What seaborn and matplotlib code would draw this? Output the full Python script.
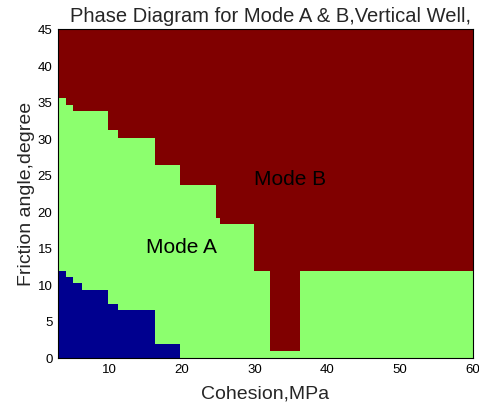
import numpy as np
import matplotlib
matplotlib.use("Agg")
import matplotlib.pyplot as plt
import seaborn as sns

# Step boundaries (cohesion, MPa)
cohesion_edges = [3.0, 4.05, 5.0, 6.35, 9.8, 11.25, 16.3, 19.75, 24.75, 25.3, 29.95, 32.1, 36.2, 60.0]
# Upper friction angle (degree) of the Mode A (green) region in each cohesion step
modeA_upper = [35.5, 34.6, 33.7, 33.7, 31.1, 30.05, 26.4, 23.65, 19.1, 18.3, 11.85, 0.9, 11.85]
# Upper friction angle of the lower (blue) region in each cohesion step
lower_upper = [11.85, 11.05, 10.15, 9.2, 7.35, 6.45, 1.85, 0, 0, 0, 0, 0, 0]
angle_max = 45

x_ticks = [10, 20, 30, 40, 50, 60]
y_ticks = [0, 5, 10, 15, 20, 25, 30, 35, 40, 45]

c_red = "#800000"
c_green = "#8CFF6E"
c_blue = "#00008F"

sns.set_style("white")
plt.rcParams["font.family"] = ["Liberation Sans", "DejaVu Sans"]

fig = plt.figure(figsize=(4.79, 4.06), dpi=100)
ax = fig.add_axes([58 / 479, 1 - 358.5 / 406, (473 - 58) / 479, (358.5 - 30) / 406])

edges = np.array(cohesion_edges)
ax.stairs([angle_max] * (len(edges) - 1), edges, baseline=0, fill=True, color=c_red, lw=0)
ax.stairs(modeA_upper, edges, baseline=0, fill=True, color=c_green, lw=0)
ax.stairs(lower_upper, edges, baseline=0, fill=True, color=c_blue, lw=0)

ax.set_xlim(3, 60)
ax.set_ylim(0, 45)
ax.set_xticks(x_ticks)
ax.set_yticks(y_ticks)
ax.tick_params(direction="in", length=3, labelsize=9.5, colors="black", pad=4)
for s in ax.spines.values():
    s.set_color("black")
    s.set_linewidth(0.8)

ax.text(20.0, 15.2, "Mode A", fontsize=15, ha="center", va="center", color="black")
ax.text(34.9, 24.5, "Mode B", fontsize=15, ha="center", va="center", color="black")

ax.set_title("Phase Diagram for Mode A & B,Vertical Well,", fontsize=14.5, pad=6, x=0.512)
ax.set_xlabel("Cohesion,MPa", fontsize=14, labelpad=7)
ax.set_ylabel("Friction angle,degree", fontsize=14, labelpad=2)

fig.savefig("out.png", dpi=100)
